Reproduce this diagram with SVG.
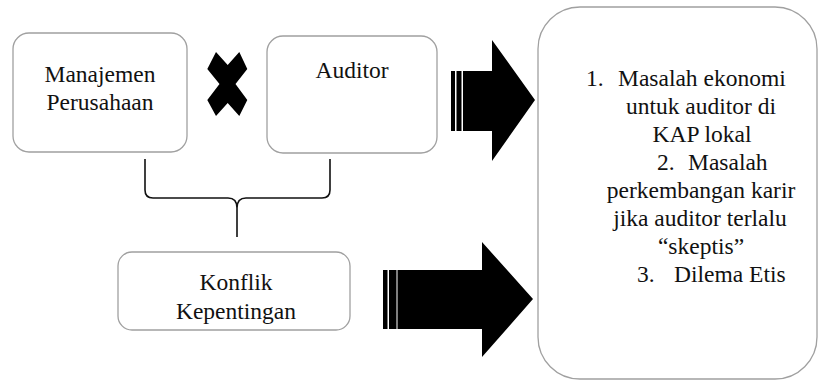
<svg xmlns="http://www.w3.org/2000/svg" width="819" height="385" viewBox="0 0 819 385">
<style>
.box{fill:#fff;stroke:#a0a0a0;stroke-width:1.3}
.brace{fill:none;stroke:#111;stroke-width:1.6}
.blk{fill:#000}
</style>
<rect width="819" height="385" fill="#fff"/>
<g font-family="Liberation Serif, DejaVu Serif, Times New Roman, serif" font-size="23.5" fill="#111">
<g id="manajemen">
<rect class="box" x="13" y="33" width="174" height="119" rx="16"/>
<text text-anchor="middle" x="100" y="82">Manajemen</text>
<text text-anchor="middle" x="100" y="110">Perusahaan</text>
</g>
<g id="auditor">
<rect class="box" x="267" y="36" width="170" height="117" rx="16"/>
<text text-anchor="middle" x="352" y="78">Auditor</text>
</g>
<g id="konflik">
<rect class="box" x="118" y="252" width="232" height="78" rx="14"/>
<text text-anchor="middle" x="236" y="290">Konflik</text>
<text text-anchor="middle" x="236" y="319">Kepentingan</text>
</g>
<g id="masalah">
<rect class="box" x="538" y="7" width="279" height="372" rx="42"/>
<text x="586" y="86">1.</text>
<text x="618" y="86">Masalah ekonomi</text>
<text text-anchor="middle" x="701" y="114">untuk auditor di</text>
<text text-anchor="middle" x="702" y="142">KAP lokal</text>
<text x="657" y="170">2.</text>
<text x="688" y="170">Masalah</text>
<text text-anchor="middle" x="701" y="198">perkembangan karir</text>
<text text-anchor="middle" x="700" y="226">jika auditor terlalu</text>
<text text-anchor="middle" x="701" y="254">“skeptis”</text>
<text x="637" y="282">3.</text>
<text x="674" y="282">Dilema Etis</text>
</g>
</g>
<g id="cross">
<polygon class="blk" points="216,52 227.7,65 239.3,52 247.3,69 235.5,84 247.3,100 239.3,116 227.7,103 216,116 207.3,100 219.5,84 207.3,69"/>
</g>
<g id="connectors">
<path class="brace" d="M145,159 L145,190 Q145,198 153,198 L228,198 Q237,198 237,208 L237,237 M330,159 L330,190 Q330,198 322,198 L246,198 Q237,198 237,208"/>
<g id="arrow-top">
<rect class="blk" x="451" y="71" width="4" height="60"/>
<rect class="blk" x="456.5" y="71" width="5" height="60"/>
<polygon class="blk" points="463,71 492,71 492,40 535,100 492,161 492,131 463,131"/>
</g>
<g id="arrow-bottom">
<rect class="blk" x="383" y="270" width="4.5" height="59"/>
<rect class="blk" x="389" y="270" width="7.5" height="59"/>
<polygon class="blk" points="397.5,270 482,270 482,242 533,299 482,357 482,329 397.5,329"/>
</g>
</g>
</svg>
